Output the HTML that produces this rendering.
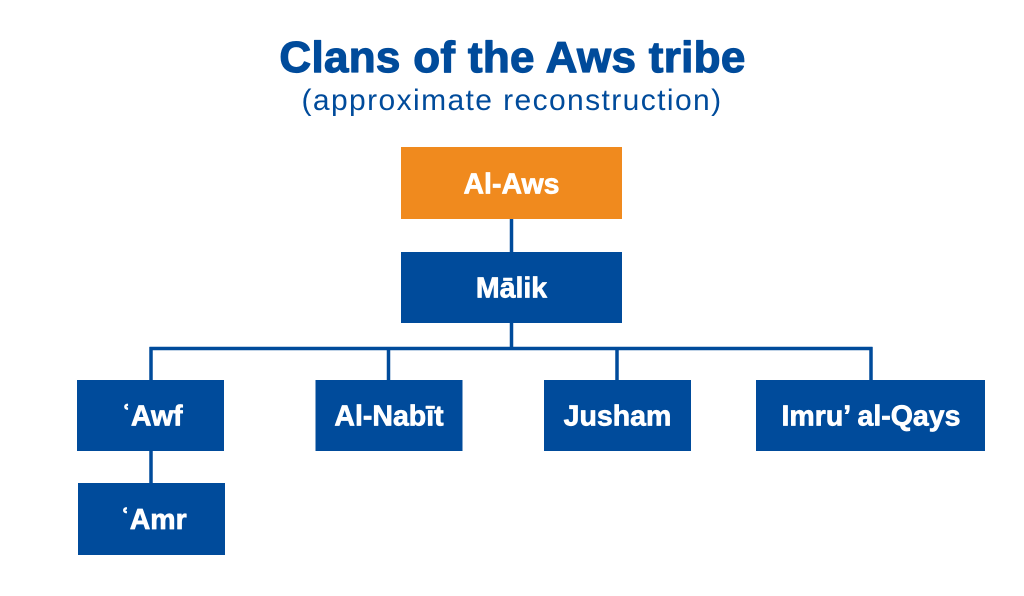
<!DOCTYPE html>
<html>
<head>
<meta charset="utf-8">
<style>
  html, body { margin: 0; padding: 0; background: #ffffff; }
  body { width: 1024px; height: 596px; overflow: hidden; }
  svg { display: block; }
  .t { font-family: "Liberation Sans", "DejaVu Sans", sans-serif; }
</style>
</head>
<body>
<svg width="1024" height="596" viewBox="0 0 1024 596" xmlns="http://www.w3.org/2000/svg">
  <rect width="1024" height="596" fill="#ffffff"/>

  <!-- Title -->
  <text class="t" x="512.5" y="72" text-anchor="middle" font-size="44" font-weight="bold" fill="#004B9B" stroke="#004B9B" stroke-width="1.2" stroke-linejoin="round" letter-spacing="0.3">Clans of the Aws tribe</text>
  <text class="t" x="512" y="110" text-anchor="middle" font-size="30" fill="#004B9B" letter-spacing="1.4">(approximate reconstruction)</text>

  <!-- Connectors -->
  <g stroke="#004B9B" stroke-width="3.5" fill="none">
    <line x1="511.5" y1="218" x2="511.5" y2="253"/>
    <line x1="511.5" y1="322" x2="511.5" y2="349"/>
    <line x1="149.5" y1="348.5" x2="872.5" y2="348.5"/>
    <line x1="151" y1="347" x2="151" y2="381"/>
    <line x1="388.5" y1="347" x2="388.5" y2="381"/>
    <line x1="617" y1="347" x2="617" y2="381"/>
    <line x1="871" y1="347" x2="871" y2="381"/>
    <line x1="151" y1="450" x2="151" y2="484"/>
  </g>

  <!-- Nodes -->
  <rect x="401" y="147" width="221" height="72" fill="#F08A1E"/>
  <rect x="401" y="252" width="221" height="71" fill="#004B9B"/>
  <rect x="77" y="380" width="147" height="71" fill="#004B9B"/>
  <rect x="315.5" y="380" width="147" height="71" fill="#004B9B"/>
  <rect x="544" y="380" width="147" height="71" fill="#004B9B"/>
  <rect x="756" y="380" width="229" height="71" fill="#004B9B"/>
  <rect x="78" y="483" width="147" height="72" fill="#004B9B"/>

  <!-- Labels -->
  <g class="t" font-size="28.5" font-weight="bold" fill="#ffffff" stroke="#ffffff" stroke-width="0.7" stroke-linejoin="round" text-anchor="middle">
    <text x="511.5" y="193.5">Al-Aws</text>
    <text x="511.5" y="297.5">Mālik</text>
    <text x="152" y="425.5">ʿAwf</text>
    <text x="389" y="425.5">Al-Nabīt</text>
    <text x="617.5" y="425.5">Jusham</text>
    <text x="871" y="425.5">Imru’ al-Qays</text>
    <text x="153.5" y="529">ʿAmr</text>
  </g>
</svg>
</body>
</html>
